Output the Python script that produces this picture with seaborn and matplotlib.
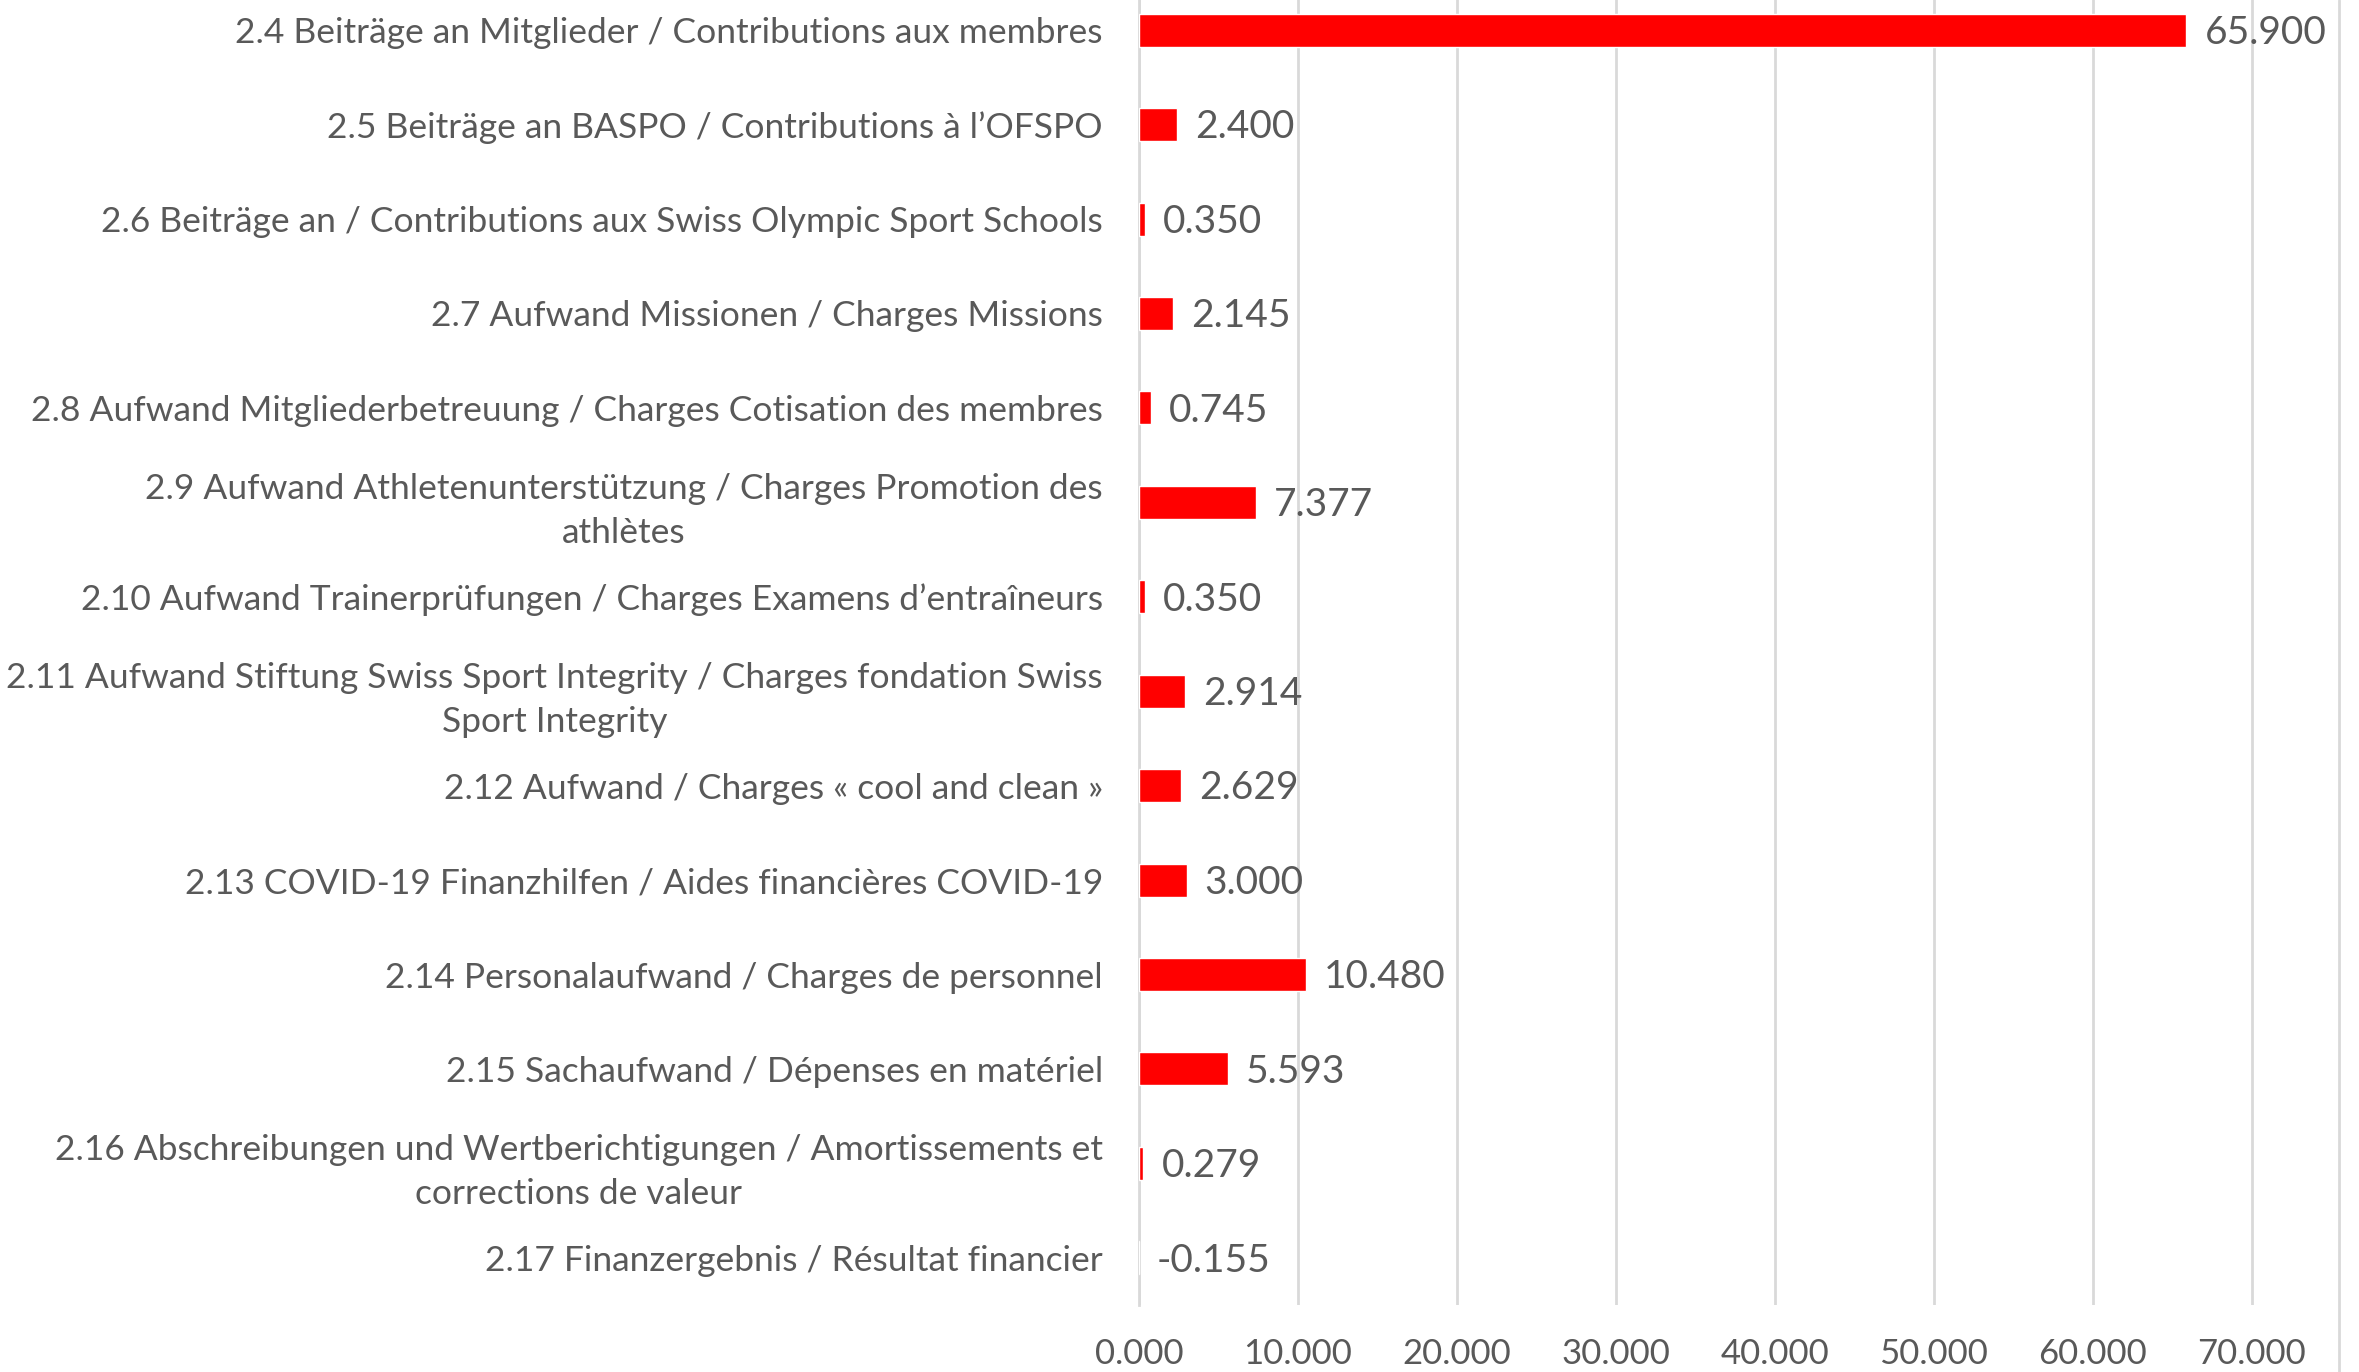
import matplotlib
matplotlib.use('Agg')
import matplotlib.pyplot as plt
from matplotlib.lines import Line2D
import seaborn as sns

# Categories (line breaks as in the original chart)
categories = [
    '2.4 Beiträge an Mitglieder / Contributions aux membres',
    '2.5 Beiträge an BASPO / Contributions à l’OFSPO',
    '2.6 Beiträge an / Contributions aux Swiss Olympic Sport Schools',
    '2.7 Aufwand Missionen / Charges Missions',
    '2.8 Aufwand Mitgliederbetreuung / Charges Cotisation des membres',
    '2.9 Aufwand Athletenunterstützung / Charges Promotion des\nathlètes',
    '2.10 Aufwand Trainerprüfungen / Charges Examens d’entraîneurs',
    '2.11 Aufwand Stiftung Swiss Sport Integrity / Charges fondation Swiss\nSport Integrity',
    '2.12 Aufwand / Charges « cool and clean »',
    '2.13 COVID-19 Finanzhilfen / Aides financières COVID-19',
    '2.14 Personalaufwand / Charges de personnel',
    '2.15 Sachaufwand / Dépenses en matériel',
    '2.16 Abschreibungen und Wertberichtigungen / Amortissements et\ncorrections de valeur',
    '2.17 Finanzergebnis / Résultat financier',
]
values = [65.900, 2.400, 0.350, 2.145, 0.745, 7.377, 0.350,
          2.914, 2.629, 3.000, 10.480, 5.593, 0.279, -0.155]
x_ticks = [0, 10, 20, 30, 40, 50, 60, 70]

TEXT = '#595959'
GRID = '#D9D9D9'

sns.set_theme(style='white')
plt.rcParams['font.family'] = ['Lato', 'DejaVu Sans']

fig = plt.figure(figsize=(23.59, 13.72), dpi=100)
ax = fig.add_axes([1139 / 2359, 67 / 1372, (2339 - 1139) / 2359, 1322 / 1372])

sns.barplot(x=values, y=categories, orient='h', color='#FF0000',
            width=0.35, saturation=1, ax=ax, zorder=3)

ax.set_xlim(0, 75.5)
ax.set_xticks(x_ticks)
ax.set_xticklabels([f'{t:.3f}' for t in x_ticks], fontsize=25, color=TEXT)
ax.xaxis.grid(True, color=GRID, linewidth=2, zorder=0)
ax.set_axisbelow(True)
ax.tick_params(axis='x', length=0, pad=24)
ax.tick_params(axis='y', length=0, pad=26)
for lab in ax.get_yticklabels():
    lab.set_fontsize(25.5)
    lab.set_color(TEXT)
    lab.set_multialignment('center')
    lab.set_linespacing(1.45)
ax.set_xlabel('')
ax.set_ylabel('')

for s in ['top', 'right', 'bottom']:
    ax.spines[s].set_visible(False)
ax.spines['left'].set_color(GRID)
ax.spines['left'].set_linewidth(2)

# value labels
for i, v in enumerate(values):
    ax.annotate(f'{v:.3f}', xy=(max(v, 0), i), xytext=(13, -2),
                textcoords='offset points', va='center', ha='left',
                fontsize=28, color=TEXT)

# chart border line on the right
fig.add_artist(Line2D([2339 / 2359, 2339 / 2359], [0, 1], color=GRID,
                      linewidth=2, transform=fig.transFigure))

fig.savefig('out.png', dpi=100, facecolor='white')
